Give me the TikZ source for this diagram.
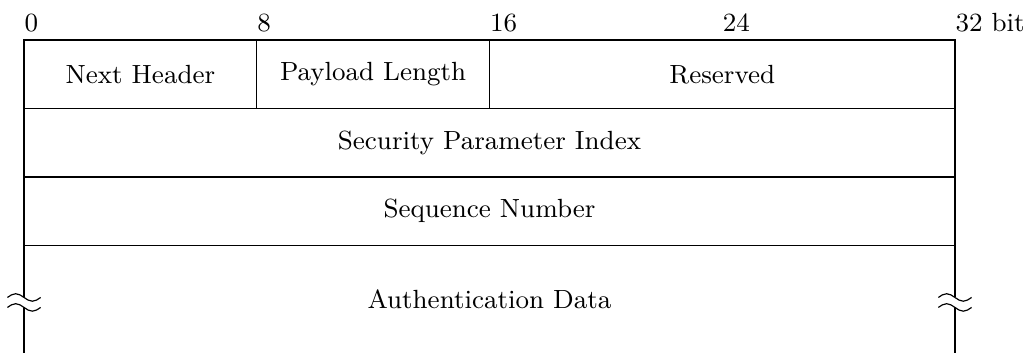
\documentclass[tikz,border=0pt]{standalone}
\usetikzlibrary{positioning}

\begin{document}
\begin{tikzpicture}[
  field/.style={draw,anchor=north west,minimum height=0.824cm,inner sep=0pt,outer sep=0pt},
  bits/.style={anchor=base west,inner sep=0pt},
  every node/.style={align=center,font=\small}]

  \useasboundingbox (-0.289,0.482) rectangle (12.091,-3.767);

  \node[field,minimum width=2.8cm] (nxt) at (0,0) {Next Header};
  \node[field,minimum width=2.8cm,right=0pt of nxt] (len) {Payload Length};
  \node[field,minimum width=5.6cm,right=0pt of len] (rsv) {Reserved};
  \node[field,minimum width=11.2cm,below right=0pt and 0pt of nxt.south west] (spi) {Security Parameter Index};
  \node[field,minimum width=11.2cm,below=0pt of spi] (seq) {Sequence Number};
  \node[minimum width=11.2cm,minimum height=1.29cm,inner sep=0pt,outer sep=0pt,below=0pt of seq] (auth) {Authentication Data};

  \foreach \b in {0,8,16,24}
    \node[bits] (bit\b) at (\b*0.35,0.097) {\b};
  \node[bits] (bit32) at (11.2,0.097) {32 bit};

  % open ends of the data field
  \foreach \s in {west,east} {
    \draw (auth.north \s) -- ([yshift=0.02cm]auth.\s);
    \draw ([yshift=-0.10cm]auth.\s) -- (auth.south \s);
    \foreach \dy in {0.02,-0.10}
      \draw ([xshift=-0.2cm,yshift=\dy cm]auth.\s) sin ++(0.1,0.045) cos ++(0.1,-0.045)
        sin ++(0.1,-0.045) cos ++(0.1,0.045);
  }
\end{tikzpicture}
\end{document}
